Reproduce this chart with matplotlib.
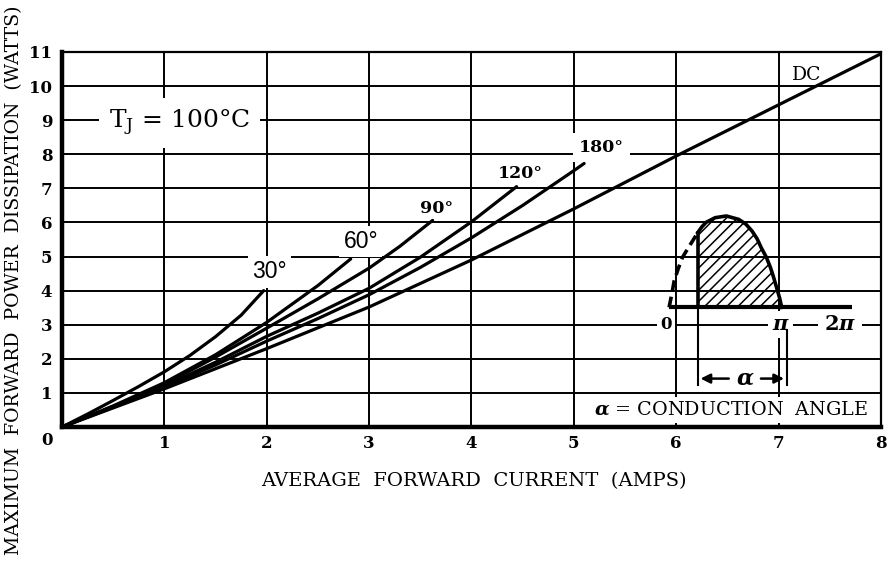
import matplotlib
matplotlib.use('Agg')
import matplotlib.pyplot as plt
from matplotlib.transforms import ScaledTranslation

# ---------------- data ----------------
x_ticks = [0, 1, 2, 3, 4, 5, 6, 7, 8]
x_tick_labels = ['', '1', '2', '3', '4', '5', '6', '7', '8']
y_ticks = [0, 1, 2, 3, 4, 5, 6, 7, 8, 9, 10, 11]
y_tick_labels = ['0', '1', '2', '3', '4', '5', '6', '7', '8', '9', '10', '11']

dc_x = [0, 1, 2, 3, 4, 5, 6, 7, 8]
dc_y = [0, 1.12, 2.3, 3.52, 4.9, 6.4, 7.95, 9.45, 10.95]
deg180_x = [0, 0.5, 1, 1.5, 2, 2.5, 3, 3.5, 4, 4.5, 5, 5.1]
deg180_y = [0, 0.58, 1.17, 1.82, 2.52, 3.18, 3.88, 4.68, 5.55, 6.5, 7.52, 7.73]
deg120_x = [0, 0.5, 1, 1.5, 2, 2.5, 3, 3.5, 4, 4.44]
deg120_y = [0, 0.6, 1.2, 1.9, 2.66, 3.34, 4.07, 4.98, 6.02, 7.05]
deg90_x = [0, 0.5, 1, 1.5, 2, 2.5, 3, 3.3, 3.62]
deg90_y = [0, 0.6, 1.25, 2.05, 2.9, 3.76, 4.66, 5.3, 6.06]
deg60_x = [0, 0.5, 1, 1.5, 2, 2.5, 2.82]
deg60_y = [0, 0.62, 1.3, 2.12, 3.07, 4.15, 4.93]
deg30_x = [0, 0.25, 0.5, 0.75, 1, 1.25, 1.5, 1.75, 1.97]
deg30_y = [0, 0.38, 0.78, 1.19, 1.62, 2.1, 2.65, 3.28, 4.0]

curve_labels = ['30°', '60°', '90°', '120°', '180°', 'DC']

# inset waveform (schematic)
wave_dash_x = [5.93, 5.96, 5.98, 6.02, 6.06, 6.11, 6.16, 6.21]
wave_dash_y = [3.51, 3.95, 4.29, 4.65, 4.97, 5.22, 5.46, 5.70]
wave_solid_x = [6.21, 6.25, 6.29, 6.38, 6.49, 6.61, 6.68, 6.74, 6.79, 6.83, 6.88, 6.92, 6.95, 6.98, 7.01, 7.03]
wave_solid_y = [5.70, 5.87, 6.00, 6.14, 6.19, 6.09, 5.95, 5.75, 5.52, 5.26, 4.98, 4.68, 4.40, 4.09, 3.78, 3.51]
base_x = [5.93, 7.72]
base_y = [3.51, 3.51]

# ---------------- figure ----------------
plt.rcParams['mathtext.fontset'] = 'dejavuserif'
plt.rcParams['hatch.linewidth'] = 1.1
serif = 'DejaVu Serif'

fig = plt.figure(figsize=(8.95, 5.61), dpi=100)
ax = fig.add_axes([62/895, (561-427)/561, (881-62)/895, (427-52)/561])
ax.set_xlim(0, 8)
ax.set_ylim(0, 11)
ax.set_xticks(x_ticks)
ax.set_yticks(y_ticks)
ax.set_xticklabels(x_tick_labels, family=serif, fontsize=12, fontweight='bold')
ax.set_yticklabels(y_tick_labels, family=serif, fontsize=12, fontweight='bold')
ax.tick_params(length=0, axis='x', pad=6)
ax.tick_params(length=0, axis='y', pad=7)
lbl0 = ax.get_yticklabels()[0]
lbl0.set_transform(lbl0.get_transform() + ScaledTranslation(0, -8/72, fig.dpi_scale_trans))

ax.grid(True, color='black', lw=1.4)
ax.set_axisbelow(True)
for side, lw in [('left', 3.2), ('bottom', 3.2), ('top', 1.6), ('right', 1.6)]:
    ax.spines[side].set_linewidth(lw)
    ax.spines[side].set_color('black')

lw_c = 2.3
for xs, ys in [(dc_x, dc_y), (deg180_x, deg180_y), (deg120_x, deg120_y),
               (deg90_x, deg90_y), (deg60_x, deg60_y), (deg30_x, deg30_y)]:
    ax.plot(xs, ys, color='black', lw=lw_c, solid_capstyle='round',
            solid_joinstyle='round', zorder=4)

wb = dict(facecolor='white', edgecolor='none', pad=3)
ax.text(2.03, 4.55, curve_labels[0], family='Liberation Sans', fontsize=16.5,
        ha='center', va='center', bbox=wb, zorder=3)
ax.text(2.92, 5.45, curve_labels[1], family='Liberation Sans', fontsize=16.5,
        ha='center', va='center', bbox=wb, zorder=3)
ax.text(3.66, 6.42, curve_labels[2], family=serif, fontsize=12.5, fontweight='bold',
        ha='center', va='center', bbox=wb, zorder=3)
ax.text(4.48, 7.45, curve_labels[3], family=serif, fontsize=12.5, fontweight='bold',
        ha='center', va='center', bbox=wb, zorder=3)
ax.text(5.27, 8.2, curve_labels[4], family=serif, fontsize=12.5, fontweight='bold',
        ha='center', va='center', zorder=3,
        bbox=dict(facecolor='white', edgecolor='none', pad=4.5))
ax.text(7.27, 10.33, curve_labels[5], family=serif, fontsize=13.5,
        ha='center', va='center', zorder=3)

ax.text(1.15, 8.93, r'T$_{\mathrm{J}}$ = 100°C', family=serif, fontsize=18,
        ha='center', va='center', zorder=3,
        bbox=dict(facecolor='white', edgecolor='none', pad=7))

# inset waveform
ax.plot(wave_dash_x, wave_dash_y, color='black', lw=2.6, ls=(0, (3, 1.6)), zorder=4)
ax.plot(wave_solid_x, wave_solid_y, color='black', lw=2.6, zorder=4)
ax.fill_between(wave_solid_x, base_y[0], wave_solid_y, facecolor='none',
                edgecolor='black', hatch='///', lw=0, zorder=3)
ax.plot(base_x, base_y, color='black', lw=3.0, zorder=4, solid_capstyle='butt')
ax.plot([wave_solid_x[0], wave_solid_x[0]], [base_y[0], wave_solid_y[0]],
        color='black', lw=2.6, zorder=4)
# alpha markers
ax.plot([6.21, 6.21], [3.51, 1.22], color='black', lw=1.5, zorder=4)
ax.plot([7.08, 7.08], [2.85, 1.22], color='black', lw=1.5, zorder=4)
ax.annotate('', xy=(6.21, 1.42), xytext=(6.54, 1.42),
            arrowprops=dict(arrowstyle='-|>', color='black', lw=1.8,
                            mutation_scale=14), zorder=5)
ax.annotate('', xy=(7.08, 1.42), xytext=(6.80, 1.42),
            arrowprops=dict(arrowstyle='-|>', color='black', lw=1.8,
                            mutation_scale=14), zorder=5)
ax.text(6.67, 1.42, r'$\boldsymbol{\alpha}$', fontsize=16, ha='center', va='center',
        zorder=5)
inset_lb = dict(facecolor='white', edgecolor='none', pad=2.5)
ax.text(5.9, 3.02, '0', family=serif, fontsize=12, fontweight='bold',
        ha='center', va='center', bbox=inset_lb, zorder=3)
ax.text(7.02, 3.02, r'$\boldsymbol{\pi}$', fontsize=15, ha='center', va='center',
        bbox=inset_lb, zorder=3)
ax.text(7.6, 3.02, r'$\mathbf{2}\boldsymbol{\pi}$', fontsize=15, ha='center', va='center',
        bbox=dict(facecolor='white', edgecolor='none', pad=4), zorder=3)

ax.text(6.53, 0.5, r'$\boldsymbol{\alpha}$ = CONDUCTION  ANGLE', family=serif,
        fontsize=13.8, ha='center', va='center', zorder=3,
        bbox=dict(facecolor='white', edgecolor='none', pad=3))

fig.text(474/895, 1 - 481/561, 'AVERAGE  FORWARD  CURRENT  (AMPS)', family=serif,
         fontsize=14, ha='center', va='center')
fig.text(14/895, 1 - 280/561, 'MAXIMUM  FORWARD  POWER  DISSIPATION  (WATTS)',
         family=serif, fontsize=13.6, ha='center', va='center', rotation=90)

fig.savefig('out.png', dpi=100, facecolor='white')
